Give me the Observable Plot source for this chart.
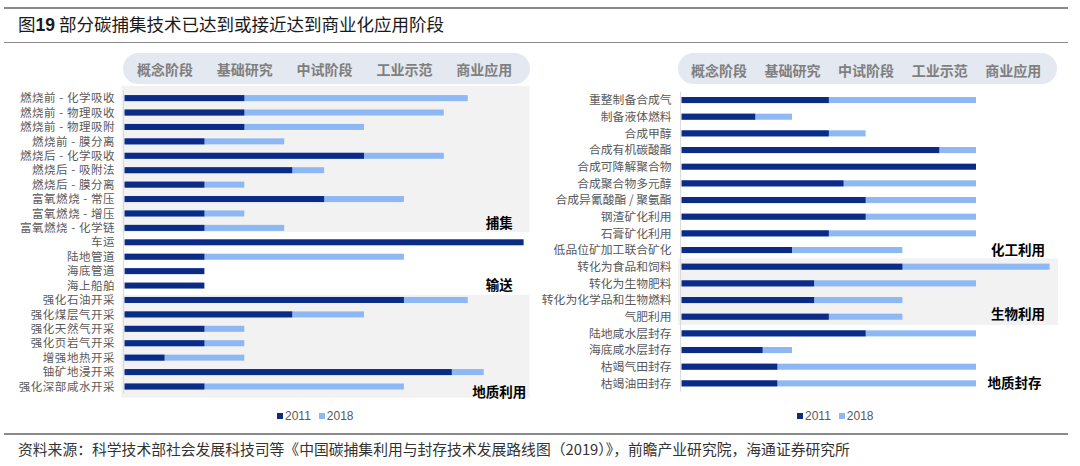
<!DOCTYPE html>
<html><head><meta charset="utf-8">
<script src="https://cdn.jsdelivr.net/npm/d3@7"></script>
<script src="https://cdn.jsdelivr.net/npm/@observablehq/plot@0.6"></script>
<style>
body{margin:0;background:#fff;}
#page{position:relative;width:1080px;height:466px;overflow:hidden;font-family:"Noto Sans CJK SC","Noto Sans",sans-serif;}
.rule{position:absolute;left:4px;width:1064px;height:1.5px;background:#8a8a8a;}
.pill{position:absolute;top:53px;height:31px;border-radius:15.5px;background:#e4e8f0;}
.plot{position:absolute;top:40px;}
#left g[aria-label="y-axis tick label"] text{letter-spacing:0.55px;}
.legend{position:absolute;top:409px;height:14px;display:flex;align-items:center;font-family:"Liberation Sans",Arial,sans-serif;font-size:12px;color:#595959;}
.legend .sw{width:6px;height:6px;margin-right:2px;}
.legend .it{display:flex;align-items:center;margin-right:8px;}
</style></head>
<body><div id="page">
<div class="rule" style="top:7px"></div>
<div id="title" style="position:absolute;left:18px;top:11px;font-size:17.5px;line-height:26px;color:#1a1a1a;">图<b style="font-family:'Liberation Sans',Arial,sans-serif;">19</b> 部分碳捕集技术已达到或接近达到商业化应用阶段</div>
<div class="rule" style="top:41.5px"></div>
<div class="pill" style="left:123px;width:407px;"></div>
<div class="pill" style="left:678px;width:379px;"></div>
<div id="left" class="plot" style="left:0px"></div>
<div id="right" class="plot" style="left:540px"></div>
<div class="legend" id="legL" style="left:277px"></div>
<div class="legend" id="legR" style="left:797px"></div>
<div class="rule" style="top:433px"></div>
<div id="src" style="position:absolute;left:18px;top:439px;font-size:14.8px;line-height:20px;color:#333;">资料来源：科学技术部社会发展科技司等《中国碳捕集利用与封存技术发展路线图（2019）》，前瞻产业研究院，海通证券研究所</div>
</div>
<script>
const stages = ["概念阶段","基础研究","中试阶段","工业示范","商业应用"];
const stageTicks = [1,3,5,7,9];
const years = ["2011","2018"];

const leftTech = ["燃烧前 - 化学吸收","燃烧前 - 物理吸收","燃烧前 - 物理吸附","燃烧前 - 膜分离","燃烧后 - 化学吸收","燃烧后 - 吸附法","燃烧后 - 膜分离","富氧燃烧 - 常压","富氧燃烧 - 增压","富氧燃烧 - 化学链","车运","陆地管道","海底管道","海上船舶","强化石油开采","强化煤层气开采","强化天然气开采","强化页岩气开采","增强地热开采","铀矿地浸开采","强化深部咸水开采"];
const left2011 = [3,3,3,2,6,4.2,2,5,2,2,10,2,2,2,7,4.2,2,2,1,8.2,2];
const left2018 = [8.6,8,6,4,8,5,3,7,3,4,null,7,null,null,8.6,6,3,3,3,9,7];
const leftGroupLabels = ["捕集","输送","地质利用"];
const leftGroupLast = [9,13,20];

const rightTech = ["重整制备合成气","制备液体燃料","合成甲醇","合成有机碳酸酯","合成可降解聚合物","合成聚合物多元醇","合成异氰酸酯 / 聚氨酯","钢渣矿化利用","石膏矿化利用","低品位矿加工联合矿化","转化为食品和饲料","转化为生物肥料","转化为化学品和生物燃料","气肥利用","陆地咸水层封存","海底咸水层封存","枯竭气田封存","枯竭油田封存"];
const right2011 = [4,2,4,7,8,4.4,5,5,4,3,6,3.6,3.6,4,5,2.2,2.6,2.6];
const right2018 = [8,3,5,8,null,8,8,8,8,6,10,8,6,6,8,3,8,8];
const rightGroupLabels = ["化工利用","生物利用","地质封存"];
const rightGroupLast = [9,13,17];

const DARK = "#0b2b86", LIGHT = "#8db8f3", BG = "#f2f2f2";
const FONT = "'Noto Sans CJK SC','Noto Sans',sans-serif";

function bgBlock(names, first, last, x1, x2, extTop, extBottom) {
  const rows = names.slice(first, last + 1);
  return [
    Plot.barX(rows.slice(1, -1), {y: d => d, x1, x2, fill: BG, insetTop: -0.5, insetBottom: -0.5}),
    Plot.barX([rows[0]], {y: d => d, x1, x2, fill: BG, insetTop: -extTop, insetBottom: -0.5}),
    Plot.barX([rows[rows.length - 1]], {y: d => d, x1, x2, fill: BG, insetTop: -0.5, insetBottom: -extBottom})
  ];
}

function panel(o) {
  const rows = o.names.map((t, i) => ({t, a: o.v2011[i], b: o.v2018[i]}));
  const inset = o.inset;
  return Plot.plot({
    width: 540, height: 375,
    marginLeft: o.marginLeft, marginRight: o.marginRight,
    marginTop: o.marginTop, marginBottom: o.marginBottom,
    x: {domain: [0, 10]},
    y: {domain: o.names, padding: 0, round: false},
    style: {fontFamily: FONT, background: "transparent", overflow: "visible"},
    marks: [
      ...o.bg,
      Plot.ruleX([0], {stroke: "#d9d9d9", dx: -1.5}),
      Plot.barX(rows.filter(d => d.b != null), {x: "b", y: "t", fill: LIGHT, insetTop: inset, insetBottom: inset}),
      Plot.barX(rows, {x: "a", y: "t", fill: DARK, insetTop: inset, insetBottom: inset}),
      Plot.axisX(stageTicks, {anchor: "top", tickSize: 0, tickPadding: 16, tickFormat: d => stages[(d - 1) / 2], fontSize: 14, fontWeight: "bold", color: "#7f7f7f", label: null}),
      Plot.axisY({tickSize: 0, tickPadding: o.labelPad, fontSize: o.labelSize, color: "#595959", label: null}),
      ...o.groupLabels.map((g, k) => Plot.text([g], {
        x: o.groupX[k], y: () => o.names[o.groupLast[k]], text: d => d,
        dy: o.groupDy[k], fontSize: 13.5, fontWeight: "bold", fill: "#000"
      }))
    ]
  });
}

document.getElementById("left").append(panel({
  names: leftTech, v2011: left2011, v2018: left2018,
  marginLeft: 124.6, marginRight: 16.4, marginTop: 50.9, marginBottom: 21.3,
  inset: 4.2, labelSize: 11.5, labelPad: 10,
  bg: [...bgBlock(leftTech, 0, 9, -0.08, 10.15, 5, -3), ...bgBlock(leftTech, 14, 20, -0.08, 10.15, -2, 4)],
  groupLabels: leftGroupLabels, groupLast: leftGroupLast,
  groupX: [9.38, 9.38, 9.38], groupDy: [-5, 0, 5.5]
}));

document.getElementById("right").append(panel({
  names: rightTech, v2011: right2011, v2018: right2018,
  marginLeft: 141.6, marginRight: 30.4, marginTop: 51.7, marginBottom: 23.3,
  inset: 5.3, labelSize: 11.8, labelPad: 10.5,
  bg: bgBlock(rightTech, 10, 13, -0.1, 10.23, 0, 0),
  groupLabels: rightGroupLabels, groupLast: rightGroupLast,
  groupX: [9.13, 9.13, 9.03], groupDy: [0, -3, 0]
}));

for (const id of ["legL", "legR"]) {
  const el = document.getElementById(id);
  years.forEach((y, i) => {
    const it = document.createElement("div"); it.className = "it";
    const sw = document.createElement("div"); sw.className = "sw"; sw.style.background = i === 0 ? DARK : LIGHT;
    const tx = document.createElement("span"); tx.textContent = y;
    it.append(sw, tx); el.append(it);
  });
}
</script>
</body></html>
